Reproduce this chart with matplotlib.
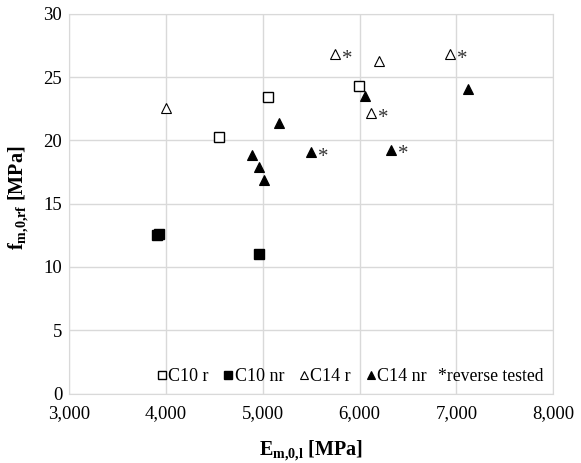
import matplotlib.pyplot as plt

plt.rcParams['font.family'] = 'Liberation Serif'
plt.rcParams['mathtext.fontset'] = 'custom'
plt.rcParams['mathtext.rm'] = 'Liberation Serif'
plt.rcParams['mathtext.bf'] = 'Liberation Serif:bold'

# C10 reversed
c10r_E = [4550, 5057, 5993]
c10r_f = [20.3, 23.4, 24.3]
# C10 not reversed
c10nr_E = [3905, 3925, 4959]
c10nr_f = [12.5, 12.6, 11.0]
# C14 reversed
c14r_E = [4000, 5742, 6206, 6931, 6120]
c14r_f = [22.6, 26.8, 26.27, 26.8, 22.16]
c14r_rev = [False, True, False, True, True]
# C14 not reversed
c14nr_E = [4894, 4966, 5017, 5172, 5495, 6055, 6327, 7117]
c14nr_f = [18.85, 17.9, 16.85, 21.35, 19.1, 23.5, 19.27, 24.1]
c14nr_rev = [False, False, False, False, True, False, True, False]

fig = plt.figure(figsize=(5.81, 4.63), dpi=100)
ax = fig.add_axes([0.119, 0.150, 0.833, 0.820])

ms = 6.8
ax.plot(c10r_E, c10r_f, 's', ms=ms, mfc='white', mec='black', mew=1.0, label='C10 r', zorder=3)
ax.plot(c10nr_E, c10nr_f, 's', ms=ms, mfc='black', mec='black', mew=1.0, label='C10 nr', zorder=3)
ax.plot(c14r_E, c14r_f, '^', ms=ms, mfc='white', mec='black', mew=0.8, label='C14 r', zorder=3)
ax.plot(c14nr_E, c14nr_f, '^', ms=ms, mfc='black', mec='black', mew=0.8, label='C14 nr', zorder=3)

# asterisk next to the reverse tested specimens
for E, f, r in list(zip(c14r_E, c14r_f, c14r_rev)) + list(zip(c14nr_E, c14nr_f, c14nr_rev)):
    if r:
        ax.annotate('*', (E, f), xytext=(5, -7), textcoords='offset points',
                    fontsize=15, va='baseline', ha='left', color='#333333')

ax.set_xlim(3000, 8000)
ax.set_ylim(0, 30)
ax.set_xticks(range(3000, 8001, 1000))
ax.set_xticklabels([f'{v:,}' for v in range(3000, 8001, 1000)])
ax.set_yticks(range(0, 31, 5))
ax.grid(True, color='#d9d9d9', lw=1.0)
ax.set_axisbelow(True)
for s in ax.spines.values():
    s.set_color('#d9d9d9')
ax.tick_params(axis='x', length=0, labelsize=13.5, pad=8)
ax.tick_params(axis='y', length=0, labelsize=13.5, pad=5)

ax.set_xlabel(r'$\mathbf{E}_{\mathbf{m{,}0{,}l}}$ [MPa]', fontsize=14.5, fontweight='bold', labelpad=12)
ax.set_ylabel(r'$\mathbf{f}_{\mathbf{m{,}0{,}rf}}$ [MPa]', fontsize=14.5, fontweight='bold')
ax.yaxis.set_label_coords(-0.078, 0.515)

ax.legend(loc='center left', bbox_to_anchor=(0.182, 0.044), ncol=4,
          frameon=False, fontsize=13, handlelength=0.5, handletextpad=0.1,
          columnspacing=0.85, markerscale=0.9, borderpad=0, borderaxespad=0)
ax.text(0.762, 0.044, '*reverse tested', transform=ax.transAxes,
        fontsize=12.7, va='center', ha='left')

fig.savefig('out.png', dpi=100)
